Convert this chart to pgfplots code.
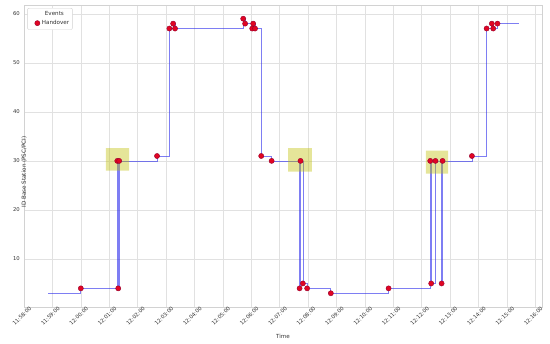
\documentclass[border=0pt]{standalone}
\usepackage{pgfplots}
\pgfplotsset{compat=1.18}
\usepackage{fontspec}
\setmainfont{DejaVu Sans}
\definecolor{gridc}{RGB}{225,225,225}
\definecolor{spine}{RGB}{210,210,210}
\definecolor{hred}{RGB}{225,5,35}
\definecolor{hedge}{RGB}{150,0,45}
\definecolor{hl}{RGB}{191,191,0}
\definecolor{txt}{RGB}{50,50,50}
\definecolor{lineblue}{RGB}{40,40,235}
\begin{document}
\begin{tikzpicture}
\useasboundingbox (-24pt,-37pt) rectangle (526pt,307pt);
\begin{axis}[
  scale only axis, width=518pt, height=302pt,
  xmin=0, xmax=1094, ymin=0.2, ymax=61.8,
  xtick={0,60,120,180,240,300,360,420,480,540,600,660,720,780,840,900,960,1020,1080},
  xticklabels={11:58:00,11:59:00,12:00:00,12:01:00,12:02:00,12:03:00,12:04:00,12:05:00,12:06:00,12:07:00,12:08:00,12:09:00,12:10:00,12:11:00,12:12:00,12:13:00,12:14:00,12:15:00,12:16:00},
  ytick={10,20,30,40,50,60},
  grid=major, major grid style={gridc, line width=0.6pt},
  axis line style={spine, line width=0.6pt},
  tick style={draw=none},
  /pgf/number format/assume math mode=true,
  tick label style={font=\fontsize{5.3}{6}\selectfont, text=txt},
  xticklabel style={rotate=45, anchor=north east, inner sep=0.8pt, xshift=5pt, yshift=-2pt},
  yticklabel style={inner sep=1pt, xshift=-3pt},
  xlabel={Time}, ylabel={ID Base Station (PSC/PCI)},
  label style={font=\fontsize{5.6}{6.5}\selectfont, text=txt},
  xlabel style={at={(axis description cs:0.5,0)}, anchor=center, yshift=-29pt},
  ylabel style={at={(axis description cs:0,0.5)}, anchor=center, xshift=-16pt},
  legend style={at={(0.006,0.99)}, anchor=north west, draw=spine, fill=white,
    rounded corners=2pt, font=\fontsize{5.6}{6.5}\selectfont, text=txt,
    inner sep=1.5pt, row sep=-1pt},
  legend cell align=left,
]
\addlegendimage{empty legend}
\addlegendentry{\hspace{3pt}Events}
% station id over time (steps-post)
\addplot[const plot, color=lineblue, opacity=0.6, line width=0.7pt, forget plot] coordinates {
(51,3)(120,4)(197,30)(199,4)(201,30)(281,31)(307,57)(315,58)(319,57)
(463,59)(467,58)(482,57)(484,58)(488,57)(501,31)(523,30)
(582,4)(584,30)(589,5)(598,4)(648,3)(770,4)
(858,30)(860,5)(869,30)(882,5)(884,30)(946,31)
(977,57)(988,58)(991,57)(1000,58)(1046,58)
};
% handover events
\addplot[only marks, mark=*, mark size=2.6pt, mark options={fill=hred, draw=hedge, line width=0.4pt}] coordinates {
(120,4)(197,30)(199,4)(201,30)(281,31)(307,57)(315,58)(319,57)
(463,59)(467,58)(482,57)(484,58)(488,57)(501,31)(523,30)
(582,4)(584,30)(589,5)(598,4)(648,3)(770,4)
(858,30)(860,5)(869,30)(882,5)(884,30)(946,31)
(977,57)(988,58)(991,57)(1000,58)
};
\addlegendentry{Handover}
% ping-pong highlight boxes
\addplot[fill=hl, fill opacity=0.4, draw=none, forget plot] coordinates {(173,28.0)(222,28.0)(222,32.6)(173,32.6)(173,28.0)};
\addplot[fill=hl, fill opacity=0.4, draw=none, forget plot] coordinates {(558,27.8)(608,27.8)(608,32.6)(558,32.6)(558,27.8)};
\addplot[fill=hl, fill opacity=0.4, draw=none, forget plot] coordinates {(849,27.4)(896,27.4)(896,32.1)(849,32.1)(849,27.4)};
\end{axis}
\end{tikzpicture}
\end{document}
